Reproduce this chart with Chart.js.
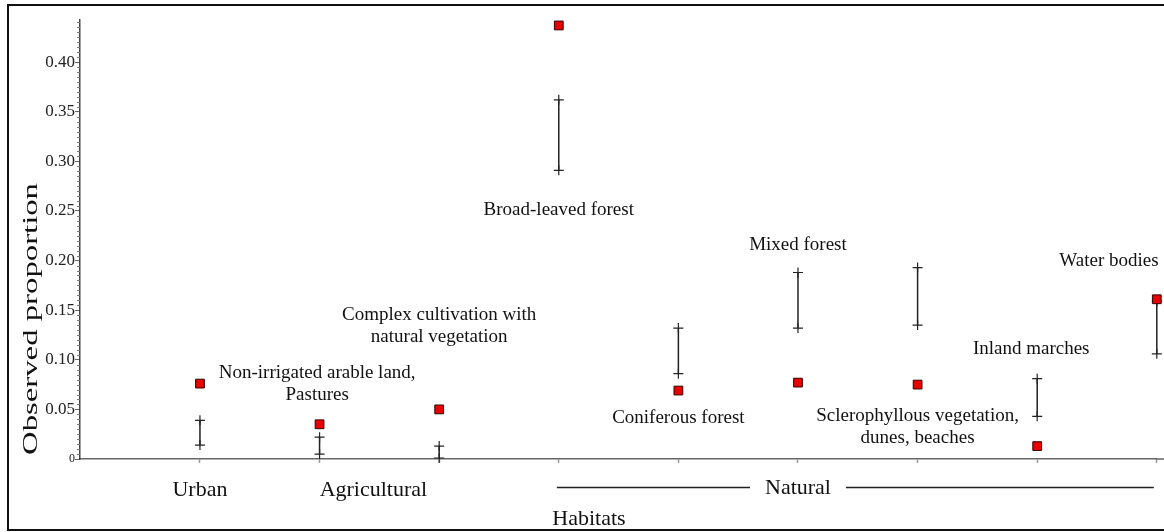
<!DOCTYPE html>
<html>
<head>
<meta charset="utf-8">
<script src="https://cdn.jsdelivr.net/npm/chart.js@4.4.1/dist/chart.umd.min.js"></script>
<style>
  body { margin:0; background:#fff; }
  #wrap { position:relative; width:1164px; height:532px; }
</style>
</head>
<body>
<div id="wrap"><canvas id="mycanvas" width="1164" height="532"></canvas></div>
<script>
// habitats along the x axis (index = position)
var categories = ['Urban', 'Non-irrigated arable land, Pastures', 'Complex cultivation with natural vegetation',
  'Broad-leaved forest', 'Coniferous forest', 'Mixed forest',
  'Sclerophyllous vegetation, dunes, beaches', 'Inland marches', 'Water bodies'];
var observed     = [0.076, 0.035, 0.050, 0.437, 0.069, 0.077, 0.075, 0.013, 0.161];
var expectedLow  = [0.014, 0.005, 0.001, 0.291, 0.086, 0.132, 0.135, 0.043, 0.106];
var expectedHigh = [0.039, 0.022, 0.013, 0.362, 0.132, 0.188, 0.193, 0.081, 0.159];
var groupNames = ['Urban', 'Agricultural', 'Natural'];
var groupFrom  = [0, 1, 3];
var groupTo    = [0, 2, 8];
var yTickValues = [0, 0.05, 0.10, 0.15, 0.20, 0.25, 0.30, 0.35, 0.40];
var yTickLabels = ['0', '0.05', '0.10', '0.15', '0.20', '0.25', '0.30', '0.35', '0.40'];
var labelLines = [
  null,
  ['Non-irrigated arable land,', 'Pastures'],
  ['Complex cultivation with', 'natural vegetation'],
  ['Broad-leaved forest'],
  ['Coniferous forest'],
  ['Mixed forest'],
  ['Sclerophyllous vegetation,', 'dunes, beaches'],
  ['Inland marches'],
  ['Water bodies']
];

var SERIF = '"Liberation Serif", "Times New Roman", serif';

var obsPoints = [];
var barPoints = [];
for (var i = 0; i < categories.length; i++) {
  obsPoints.push({x: i, y: observed[i]});
  barPoints.push({x: i, y: expectedLow[i]});
  barPoints.push({x: i, y: expectedHigh[i]});
  barPoints.push({x: i, y: null});
}

// where the habitat names sit (index offset, first-line value)
var labelSpots = [null,
  {dx: -0.02, y: 0.087}, {dx: 0, y: 0.145}, {dx: 0, y: 0.251}, {dx: 0, y: 0.041},
  {dx: 0, y: 0.216}, {dx: 0, y: 0.043}, {dx: -0.05, y: 0.111}, {dx: -0.4, y: 0.200}];

var decor = {
  id: 'decor',
  afterDraw: function(chart) {
    var c = chart.ctx, xs = chart.scales.x, ys = chart.scales.y, area = chart.chartArea;
    c.save();
    // x axis runs on to the edge
    c.strokeStyle = '#666';
    c.lineWidth = 1.5;
    c.beginPath(); c.moveTo(area.right - 1, area.bottom); c.lineTo(chart.width, area.bottom); c.stroke();
    // minor ticks on y
    c.strokeStyle = '#777';
    c.lineWidth = 1;
    for (var k = 1; k < 89; k++) {
      if (k % 10 == 0) continue;
      var py = Math.round(ys.getPixelForValue(k * 0.005)) + 0.5;
      c.beginPath(); c.moveTo(area.left - 3, py); c.lineTo(area.left, py); c.stroke();
    }
    // habitat names
    c.fillStyle = '#111';
    c.font = '19px ' + SERIF;
    c.textAlign = 'center';
    c.textBaseline = 'middle';
    for (var i = 0; i < labelLines.length; i++) {
      if (!labelLines[i]) continue;
      var px = xs.getPixelForValue(i + labelSpots[i].dx);
      var py0 = ys.getPixelForValue(labelSpots[i].y);
      for (var l = 0; l < labelLines[i].length; l++) {
        c.fillText(labelLines[i][l], px, py0 + l * 22);
      }
    }
    // group labels under the axis
    c.font = '22px ' + SERIF;
    var gy = area.bottom + 31;
    c.fillText(groupNames[0], xs.getPixelForValue(groupFrom[0]), gy);
    c.fillText(groupNames[1], xs.getPixelForValue((groupFrom[1] + groupTo[1]) / 2 - 0.05), gy);
    var nx = xs.getPixelForValue(groupFrom[2] + 2);
    c.fillText(groupNames[2], nx, gy - 2);
    var tw = c.measureText(groupNames[2]).width;
    c.strokeStyle = '#222';
    c.lineWidth = 1.5;
    c.beginPath();
    c.moveTo(xs.getPixelForValue(groupFrom[2]) - 2, gy - 2.5); c.lineTo(nx - tw / 2 - 15, gy - 2.5);
    c.moveTo(nx + tw / 2 + 15, gy - 2.5); c.lineTo(xs.getPixelForValue(groupTo[2]) - 3, gy - 2.5);
    c.stroke();
    // axis titles
    c.fillText('Habitats', 589, 519);
    c.save();
    c.translate(31, 319);
    c.rotate(-Math.PI / 2);
    c.font = '22px ' + SERIF;
    var ttl = 'Observed proportion';
    var sx = 272 / c.measureText(ttl).width;
    c.scale(sx, 1);
    c.fillText(ttl, 0, 0);
    c.restore();
    // frame
    c.strokeStyle = '#111';
    c.lineWidth = 2;
    c.strokeRect(8, 5, 1180, 525);
    c.restore();
  }
};

var ctx = document.getElementById('mycanvas');
var chart = new Chart(ctx, {
  type: 'scatter',
  data: {
    datasets: [{
      label: 'observed',
      data: obsPoints,
      pointStyle: 'rect',
      pointRadius: 6.2,
      backgroundColor: '#e60000',
      borderColor: '#3a0000',
      borderWidth: 1,
      clip: false,
      order: 0
    }, {
      label: 'expected',
      type: 'line',
      data: barPoints,
      showLine: true,
      spanGaps: false,
      borderColor: '#222',
      borderWidth: 1.5,
      pointStyle: 'cross',
      pointRadius: 5,
      pointBorderColor: '#222',
      pointBorderWidth: 1.2,
      clip: false,
      order: 1
    }]
  },
  options: {
    responsive: false,
    animation: false,
    events: [],
    layout: { padding: { top: 20, right: 0, left: 0, bottom: 0 } },
    plugins: { legend: { display: false }, tooltip: { enabled: false } },
    scales: {
      x: {
        type: 'linear',
        min: -1.003,
        max: 8,
        afterBuildTicks: function(scale) {
          scale.ticks = categories.map(function(n, i) { return {value: i}; });
        },
        afterFit: function(scale) { scale.height = 73; },
        ticks: { callback: function() { return ''; } },
        grid: { drawOnChartArea: false, drawTicks: true, tickLength: 4, tickColor: '#999', tickWidth: 1.5 },
        border: { color: '#666', width: 1.5 }
      },
      y: {
        type: 'linear',
        min: 0,
        max: 0.4425,
        afterBuildTicks: function(scale) {
          scale.ticks = yTickValues.map(function(v) { return {value: v}; });
        },
        afterFit: function(scale) { scale.width = 80; },
        ticks: {
          padding: 0,
          color: '#222',
          font: function(c) {
            return { family: SERIF, size: (c.tick && c.tick.value === 0) ? 12 : 17 };
          },
          callback: function(v, idx) { return yTickLabels[idx]; }
        },
        grid: { drawOnChartArea: false, drawTicks: true, tickLength: 5, tickColor: '#666', tickWidth: 1 },
        border: { color: '#444', width: 1.5 }
      }
    }
  },
  plugins: [decor]
});
</script>
</body>
</html>
